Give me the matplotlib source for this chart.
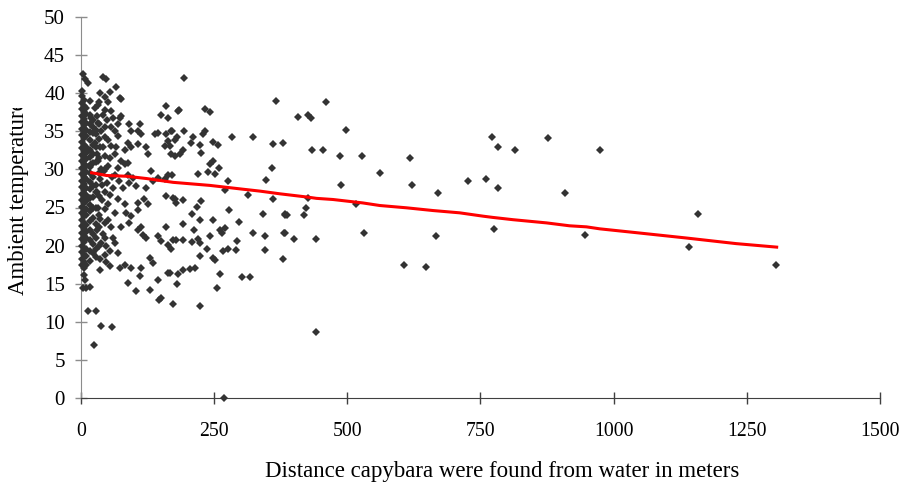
import matplotlib
matplotlib.use("Agg")
import matplotlib.pyplot as plt
from matplotlib.transforms import Bbox, TransformedBbox

# dense column right at the water's edge (distance ~0-45 m)
col_x = [1, 5, 10, 16, 22, 28, 34, 45]
col_t = [
    [17.5, 18.3, 19.2, 20.0, 20.9, 21.7, 22.6, 23.4, 24.3, 25.1, 26.0, 26.8, 27.7, 28.5,
     29.4, 30.2, 31.1, 31.9, 32.8, 33.6, 34.5, 35.3, 36.2, 37.0, 37.9, 38.7, 39.6, 40.3],
    [16.2, 17.0, 17.9, 18.8, 19.6, 20.5, 21.3, 22.2, 23.0, 23.9, 24.7, 25.6, 26.4, 27.3,
     28.1, 29.0, 29.8, 30.7, 31.5, 32.4, 33.2, 34.1, 34.9, 35.8, 36.6, 37.5, 38.3, 39.1],
    [17.4, 18.7, 19.5, 21.0, 21.8, 22.7, 24.0, 24.8, 25.9, 26.7, 27.6, 28.8, 29.6, 30.5,
     31.3, 32.2, 33.0, 34.4, 35.2, 36.1, 37.3, 38.0],
    [18.0, 19.3, 20.7, 22.0, 23.2, 24.5, 25.3, 26.2, 27.4, 28.3, 29.5, 30.3, 31.6, 32.6,
     33.8, 34.9, 36.0, 37.1],
    [19.0, 20.2, 21.5, 23.6, 24.9, 26.4, 27.8, 29.0, 30.8, 32.0, 33.2, 34.8, 36.5],
    [18.5, 21.0, 22.8, 25.0, 27.0, 28.0, 31.0, 33.0, 35.2],
    [20.0, 22.5, 24.0, 26.5, 29.5, 31.5, 34.0, 36.0, 38.8],
    [18.8, 21.0, 23.0, 27.0, 30.0, 31.8, 35.6, 37.8],
]

# near water, warm readings (0-200 m)
warm_x = [4, 7, 13, 41, 47, 54, 66, 73, 76, 51,
          16, 26, 32, 57, 41, 19, 76, 73, 160, 150,
          163, 182, 110, 91, 94, 63, 69, 57, 32, 22,
          38, 29, 51, 107, 113, 138, 144, 160, 169, 163,
          176, 107, 88, 94, 82, 57, 41, 26, 122, 157,
          169, 126, 63, 54, 32, 76, 82, 88, 69, 19,
          44, 63, 88, 98, 132, 163, 144, 157,
          35, 45, 30, 48, 60, 35, 45, 66, 70, 38,
          50, 30, 58, 72, 48, 35]
warm_t = [42.5, 41.8, 41.4, 42.1, 41.8, 40.1, 40.8, 39.4, 39.2, 38.8,
          39.0, 38.1, 38.5, 37.7, 37.2, 36.8, 37.0, 36.8, 38.3, 37.2,
          36.8, 37.7, 35.9, 35.9, 35.0, 35.0, 34.4, 35.5, 36.1, 35.5,
          35.0, 34.6, 33.9, 35.0, 34.6, 34.6, 34.8, 34.6, 35.0, 33.7,
          33.9, 33.3, 33.5, 32.9, 32.6, 33.1, 32.9, 33.5, 32.9, 33.1,
          32.0, 32.0, 32.0, 31.5, 31.1, 31.1, 30.7, 30.9, 30.2, 30.7,
          29.8, 29.3, 29.3, 28.9, 29.8, 29.3, 28.9, 28.7,
          40.0, 39.5, 37.0, 36.5, 36.8, 33.0, 34.2, 33.0, 36.0, 30.0,
          30.5, 32.0, 29.0, 28.5, 28.2, 28.7]

# near water, cooler readings (0-200 m)
cool_x = [91, 79, 104, 122, 135, 160, 176, 54, 69, 82,
          85, 94, 107, 107, 119, 126, 63, 51, 57, 76,
          91, 107, 116, 122, 113, 144, 151, 163, 169, 160,
          173, 38, 47, 54, 63, 35, 54, 73, 82, 94,
          113, 129, 135, 110, 163, 144, 88, 104, 129, 16,
          10, 4, 7, 151,
          30, 40, 45, 35, 30, 42, 60, 32, 40, 50,
          28, 36, 46, 60, 70]
cool_t = [28.2, 27.6, 27.8, 27.6, 28.5, 26.5, 26.1, 26.7, 26.1, 25.4,
          24.3, 23.9, 25.6, 24.7, 26.1, 25.4, 24.3, 23.4, 22.5, 22.5,
          23.0, 22.1, 21.4, 21.0, 22.5, 21.2, 20.6, 20.1, 19.5, 22.5,
          20.8, 20.4, 19.9, 19.3, 20.4, 18.2, 17.3, 17.1, 17.5, 17.1,
          17.1, 18.4, 17.7, 16.0, 16.4, 15.5, 15.1, 14.0, 14.2, 14.6,
          14.4, 14.4, 15.5, 13.1,
          27.0, 26.0, 24.8, 23.5, 22.0, 21.5, 27.5, 25.0, 28.0, 25.5,
          19.5, 16.8, 17.8, 21.0, 19.0]

# low outliers
low_x = [14, 29, 37, 59, 24, 268, 223, 173, 146, 256, 303, 317]
low_t = [11.4, 11.4, 9.5, 9.3, 6.9, 0.0, 12.1, 12.4, 12.9, 14.5, 15.9, 15.9]

# 165-385 m
mid_x = [194, 366, 184, 233, 242, 170, 194, 181, 233, 229,
         211, 206, 283, 322, 361, 380, 248, 257, 223, 167,
         192, 186, 176, 226, 248, 243, 260, 239, 251, 220,
         170, 358, 348, 276,
         270, 314, 361, 173, 178, 192, 226, 217, 208, 223,
         247, 278, 296, 342, 383, 191, 212, 261, 270, 264,
         322, 345, 383, 243, 178, 192, 209, 220, 223, 292,
         236, 267, 276, 291, 345, 380, 223, 248, 251, 192,
         205, 214, 183, 167, 261, 181]
mid_t = [42.0, 39.0, 37.8, 37.9, 37.5, 35.0, 35.0, 34.3, 35.0, 34.6,
         34.2, 33.5, 34.2, 34.3, 33.3, 33.4, 33.6, 33.2, 33.2, 33.1,
         32.5, 32.0, 31.8, 32.1, 31.1, 30.7, 30.2, 29.6, 29.4, 29.4,
         29.3, 30.2, 28.6, 28.5,
         27.3, 26.6, 26.1, 26.3, 25.6, 26.0, 25.8, 25.1, 24.2, 23.4,
         23.4, 24.7, 23.1, 24.1, 24.1, 22.8, 22.1, 22.1, 22.3, 21.7,
         21.7, 21.3, 21.7, 21.3, 20.7, 20.7, 20.5, 20.9, 20.3, 20.6,
         19.6, 19.3, 19.5, 19.4, 19.4, 18.2, 18.7, 18.4, 18.1, 16.8,
         16.9, 17.1, 16.3, 16.4, 16.3, 14.9]

# far from water
far_x = [460, 408, 426, 432, 498, 434, 455, 486, 528, 617,
         561, 489, 622, 772, 783, 815, 877, 727, 760, 783,
         671, 908, 426, 423, 516, 383, 387, 418, 381, 400,
         442, 531, 666, 775, 606, 647, 442, 974, 947, 1159,
         1141, 1305]
far_t = [38.9, 36.9, 37.2, 36.7, 35.2, 32.6, 32.6, 31.7, 31.7, 31.5,
         29.5, 28.0, 27.9, 34.3, 33.0, 32.6, 34.1, 28.5, 28.8, 27.5,
         26.9, 26.9, 26.2, 25.0, 25.5, 24.0, 24.0, 24.0, 21.6, 20.9,
         20.9, 21.6, 21.2, 22.2, 17.4, 17.2, 8.6, 32.5, 21.4, 24.2,
         19.8, 17.4]

# trend line as drawn
trend_x = [20, 48, 86, 123, 173, 242, 304, 336, 373, 426, 442, 473, 529, 561,
           611, 661, 711, 755, 773, 811, 874, 917, 949, 974, 1042, 1136, 1230, 1306]
trend_t = [29.56, 29.2, 29.1, 28.8, 28.3, 27.9, 27.4, 27.15, 26.8, 26.36, 26.2, 26.05, 25.6, 25.26,
           24.96, 24.6, 24.3, 23.86, 23.7, 23.4, 22.98, 22.6, 22.46, 22.2, 21.7, 21.0, 20.26, 19.8]

dist = []
temp = []
for x, ts in zip(col_x, col_t):
    dist += [x] * len(ts)
    temp += ts
for xs, ts in [(warm_x, warm_t), (cool_x, cool_t), (low_x, low_t), (mid_x, mid_t), (far_x, far_t)]:
    assert len(xs) == len(ts)
    dist += xs
    temp += ts

plt.rcParams['font.family'] = 'serif'
plt.rcParams['font.serif'] = ['Liberation Serif']

fig = plt.figure(figsize=(8.99, 4.84), dpi=100)
ax = fig.add_axes([81 / 899, 86 / 484, 799 / 899, 381 / 484])

ax.plot(dist, temp, 'D', ms=4.2, mew=0, color='#333333', clip_on=False, zorder=3)
ax.plot(trend_x, trend_t, color='#ff0000', lw=2.2, zorder=4)

ax.set_xlim(0, 1500)
ax.set_ylim(0, 50)
ax.set_xticks(range(0, 1501, 250))
ax.set_yticks(range(0, 51, 5))

for s in ['top', 'right']:
    ax.spines[s].set_visible(False)
ax.spines['left'].set_color('#8c8c8c')
ax.spines['bottom'].set_color('#404040')

ax.tick_params(direction='inout', length=9, width=1)
ax.tick_params(axis='y', colors='#8c8c8c', labelcolor='black', pad=7, labelsize=15)
ax.tick_params(axis='x', colors='#404040', labelcolor='black', pad=13, labelsize=14.2)

fig.text(502 / 899, 1 - 471 / 484, 'Distance capybara were found from water in meters',
         ha='center', va='center', fontsize=16.5)

# y label is cut off in the original
ylab = fig.text(19 / 899, 1 - 295 / 484, 'Ambient temperature', rotation=90,
                ha='center', va='bottom', fontsize=16.5)
ylab.set_clip_box(TransformedBbox(Bbox([[0, 0], [0.06, 1 - 108 / 484]]), fig.transFigure))
ylab.set_clip_on(True)

fig.savefig('out.png', dpi=100)
